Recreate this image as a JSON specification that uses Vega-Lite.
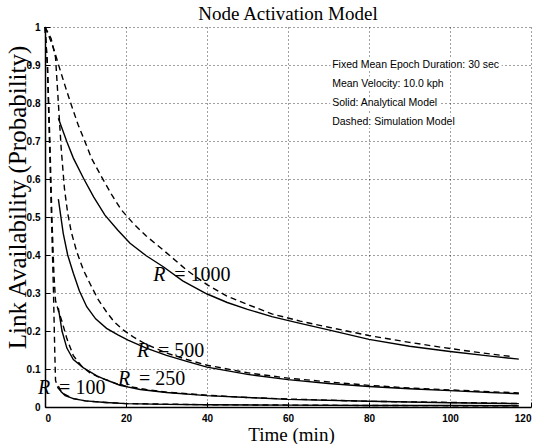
{
  "$schema": "https://vega.github.io/schema/vega-lite/v6.json",
  "width": 486,
  "height": 380,
  "autosize": {"type": "none"},
  "padding": {"left": 45, "top": 27, "right": 8, "bottom": 37},
  "background": "white",
  "title": {"text": "Node Activation Model", "font": "Liberation Serif", "fontSize": 19, "fontWeight": "normal", "color": "black", "offset": -2, "anchor": "middle"},
  "config": {
    "view": {"stroke": null},
    "axis": {
      "domainColor": "black", "domainWidth": 1.5,
      "tickColor": "black", "tickSize": -5, "tickWidth": 1,
      "grid": true, "gridColor": "black", "gridDash": [1, 3], "gridWidth": 1, "gridOpacity": 0.75,
      "labelFont": "Liberation Sans", "labelFontSize": 10, "labelFontWeight": "bold", "labelColor": "black",
      "titleFont": "Liberation Serif", "titleFontSize": 19, "titleFontWeight": "normal", "titleColor": "black"
    }
  },
  "datasets": {
    "analytical": [
      {"R": 1000, "t": 3.3, "v": 0.76}, {"R": 1000, "t": 4.3, "v": 0.73}, {"R": 1000, "t": 5.4, "v": 0.698}, {"R": 1000, "t": 7, "v": 0.655}, {"R": 1000, "t": 9.5, "v": 0.602}, {"R": 1000, "t": 12, "v": 0.553}, {"R": 1000, "t": 14.8, "v": 0.505}, {"R": 1000, "t": 18, "v": 0.465}, {"R": 1000, "t": 21, "v": 0.431}, {"R": 1000, "t": 25, "v": 0.398}, {"R": 1000, "t": 29.2, "v": 0.369}, {"R": 1000, "t": 34, "v": 0.332}, {"R": 1000, "t": 39.9, "v": 0.298}, {"R": 1000, "t": 45, "v": 0.275}, {"R": 1000, "t": 50, "v": 0.257}, {"R": 1000, "t": 56, "v": 0.238}, {"R": 1000, "t": 63, "v": 0.22}, {"R": 1000, "t": 70, "v": 0.203}, {"R": 1000, "t": 80, "v": 0.178}, {"R": 1000, "t": 90, "v": 0.16}, {"R": 1000, "t": 100, "v": 0.146}, {"R": 1000, "t": 110, "v": 0.134}, {"R": 1000, "t": 117, "v": 0.126},
      {"R": 500, "t": 3.3, "v": 0.547}, {"R": 500, "t": 4.5, "v": 0.457}, {"R": 500, "t": 5.6, "v": 0.4}, {"R": 500, "t": 7, "v": 0.352}, {"R": 500, "t": 8.5, "v": 0.305}, {"R": 500, "t": 10.3, "v": 0.264}, {"R": 500, "t": 12.5, "v": 0.232}, {"R": 500, "t": 15.2, "v": 0.207}, {"R": 500, "t": 18, "v": 0.19}, {"R": 500, "t": 20.5, "v": 0.176}, {"R": 500, "t": 25, "v": 0.155}, {"R": 500, "t": 30, "v": 0.136}, {"R": 500, "t": 35, "v": 0.12}, {"R": 500, "t": 40, "v": 0.105}, {"R": 500, "t": 50, "v": 0.086}, {"R": 500, "t": 60, "v": 0.072}, {"R": 500, "t": 70, "v": 0.062}, {"R": 500, "t": 80, "v": 0.054}, {"R": 500, "t": 90, "v": 0.048}, {"R": 500, "t": 100, "v": 0.043}, {"R": 500, "t": 110, "v": 0.038}, {"R": 500, "t": 117, "v": 0.035},
      {"R": 250, "t": 3.3, "v": 0.26}, {"R": 250, "t": 4.2, "v": 0.2}, {"R": 250, "t": 5.4, "v": 0.155}, {"R": 250, "t": 7, "v": 0.125}, {"R": 250, "t": 9.5, "v": 0.103}, {"R": 250, "t": 12.8, "v": 0.082}, {"R": 250, "t": 15.2, "v": 0.071}, {"R": 250, "t": 18.5, "v": 0.057}, {"R": 250, "t": 23.5, "v": 0.046}, {"R": 250, "t": 30, "v": 0.038}, {"R": 250, "t": 40, "v": 0.03}, {"R": 250, "t": 50, "v": 0.025}, {"R": 250, "t": 60, "v": 0.02}, {"R": 250, "t": 80, "v": 0.015}, {"R": 250, "t": 100, "v": 0.011}, {"R": 250, "t": 117, "v": 0.009},
      {"R": 100, "t": 3.3, "v": 0.055}, {"R": 100, "t": 4, "v": 0.04}, {"R": 100, "t": 5, "v": 0.03}, {"R": 100, "t": 7, "v": 0.022}, {"R": 100, "t": 10, "v": 0.016}, {"R": 100, "t": 15, "v": 0.012}, {"R": 100, "t": 20, "v": 0.009}, {"R": 100, "t": 30, "v": 0.007}, {"R": 100, "t": 40, "v": 0.006}, {"R": 100, "t": 60, "v": 0.005}, {"R": 100, "t": 80, "v": 0.004}, {"R": 100, "t": 100, "v": 0.004}, {"R": 100, "t": 117, "v": 0.003}
    ],
    "simulation": [
      {"R": 1000, "t": 0, "v": 1}, {"R": 1000, "t": 1, "v": 0.975}, {"R": 1000, "t": 2.1, "v": 0.944}, {"R": 1000, "t": 3.5, "v": 0.895}, {"R": 1000, "t": 4.9, "v": 0.847}, {"R": 1000, "t": 6.5, "v": 0.795}, {"R": 1000, "t": 8.2, "v": 0.742}, {"R": 1000, "t": 10, "v": 0.695}, {"R": 1000, "t": 11.5, "v": 0.654}, {"R": 1000, "t": 14, "v": 0.605}, {"R": 1000, "t": 16.5, "v": 0.558}, {"R": 1000, "t": 18.9, "v": 0.518}, {"R": 1000, "t": 21.8, "v": 0.483}, {"R": 1000, "t": 25, "v": 0.45}, {"R": 1000, "t": 29.2, "v": 0.413}, {"R": 1000, "t": 35, "v": 0.36}, {"R": 1000, "t": 40, "v": 0.322}, {"R": 1000, "t": 44.9, "v": 0.292}, {"R": 1000, "t": 50, "v": 0.27}, {"R": 1000, "t": 56, "v": 0.245}, {"R": 1000, "t": 63, "v": 0.226}, {"R": 1000, "t": 70, "v": 0.21}, {"R": 1000, "t": 80, "v": 0.188}, {"R": 1000, "t": 90, "v": 0.17}, {"R": 1000, "t": 98, "v": 0.157}, {"R": 1000, "t": 106, "v": 0.145}, {"R": 1000, "t": 115, "v": 0.133},
      {"R": 500, "t": 0, "v": 1}, {"R": 500, "t": 1.5, "v": 0.97}, {"R": 500, "t": 2.6, "v": 0.92}, {"R": 500, "t": 3.3, "v": 0.8}, {"R": 500, "t": 4, "v": 0.68}, {"R": 500, "t": 4.8, "v": 0.575}, {"R": 500, "t": 5.6, "v": 0.51}, {"R": 500, "t": 6.5, "v": 0.46}, {"R": 500, "t": 7.8, "v": 0.41}, {"R": 500, "t": 9.5, "v": 0.36}, {"R": 500, "t": 11.1, "v": 0.325}, {"R": 500, "t": 13, "v": 0.285}, {"R": 500, "t": 15.2, "v": 0.25}, {"R": 500, "t": 17, "v": 0.225}, {"R": 500, "t": 19.3, "v": 0.203}, {"R": 500, "t": 22, "v": 0.183}, {"R": 500, "t": 25, "v": 0.165}, {"R": 500, "t": 30, "v": 0.142}, {"R": 500, "t": 35, "v": 0.125}, {"R": 500, "t": 40, "v": 0.11}, {"R": 500, "t": 50, "v": 0.09}, {"R": 500, "t": 60, "v": 0.076}, {"R": 500, "t": 70, "v": 0.066}, {"R": 500, "t": 80, "v": 0.057}, {"R": 500, "t": 90, "v": 0.05}, {"R": 500, "t": 100, "v": 0.045}, {"R": 500, "t": 110, "v": 0.04}, {"R": 500, "t": 117, "v": 0.037},
      {"R": 250, "t": 0, "v": 1}, {"R": 250, "t": 0.6, "v": 0.9}, {"R": 250, "t": 1.2, "v": 0.7}, {"R": 250, "t": 1.7, "v": 0.5}, {"R": 250, "t": 2.2, "v": 0.35}, {"R": 250, "t": 2.6, "v": 0.28}, {"R": 250, "t": 3.4, "v": 0.25}, {"R": 250, "t": 4.2, "v": 0.225}, {"R": 250, "t": 5.4, "v": 0.18}, {"R": 250, "t": 7, "v": 0.135}, {"R": 250, "t": 9, "v": 0.108}, {"R": 250, "t": 11.1, "v": 0.09}, {"R": 250, "t": 13, "v": 0.08}, {"R": 250, "t": 15, "v": 0.072}, {"R": 250, "t": 18, "v": 0.06}, {"R": 250, "t": 20, "v": 0.055}, {"R": 250, "t": 25, "v": 0.046}, {"R": 250, "t": 30, "v": 0.039}, {"R": 250, "t": 40, "v": 0.031}, {"R": 250, "t": 50, "v": 0.025}, {"R": 250, "t": 60, "v": 0.021}, {"R": 250, "t": 80, "v": 0.015}, {"R": 250, "t": 100, "v": 0.012}, {"R": 250, "t": 117, "v": 0.009},
      {"R": 100, "t": 0, "v": 1}, {"R": 100, "t": 0.6, "v": 0.9}, {"R": 100, "t": 1.1, "v": 0.7}, {"R": 100, "t": 1.6, "v": 0.5}, {"R": 100, "t": 2.1, "v": 0.3}, {"R": 100, "t": 2.4, "v": 0.15}, {"R": 100, "t": 2.6, "v": 0.07}, {"R": 100, "t": 3.2, "v": 0.05}, {"R": 100, "t": 4.5, "v": 0.035}, {"R": 100, "t": 7, "v": 0.022}, {"R": 100, "t": 10, "v": 0.016}, {"R": 100, "t": 15, "v": 0.012}, {"R": 100, "t": 20, "v": 0.009}, {"R": 100, "t": 40, "v": 0.006}, {"R": 100, "t": 80, "v": 0.004}, {"R": 100, "t": 117, "v": 0.003}
    ],
    "labels": [
      {"t": 26.7, "v": 0.347, "rest": "= 1000"},
      {"t": 22.7, "v": 0.147, "rest": "= 500"},
      {"t": 18.0, "v": 0.074, "rest": "= 250"},
      {"t": -1.7, "v": 0.05, "rest": "= 100"}
    ],
    "notes": [
      {"t": 70.9, "v": 0.9, "note": "Fixed Mean Epoch Duration: 30 sec"},
      {"t": 70.9, "v": 0.85, "note": "Mean Velocity: 10.0 kph"},
      {"t": 70.9, "v": 0.8, "note": "Solid: Analytical Model"},
      {"t": 70.9, "v": 0.75, "note": "Dashed: Simulation Model"}
    ]
  },
  "encoding": {
    "x": {"field": "t", "type": "quantitative", "scale": {"domain": [0, 120], "nice": false, "zero": false},
      "axis": {"values": [0, 20, 40, 60, 80, 100, 120], "title": "Time (min)", "labelPadding": 11, "titleX": 246, "titleY": 18, "titleBaseline": "top", "titleAlign": "center"}},
    "y": {"field": "v", "type": "quantitative", "scale": {"domain": [0, 1], "nice": false},
      "axis": {"values": [0, 0.1, 0.2, 0.3, 0.4, 0.5, 0.6, 0.7, 0.8, 0.9, 1], "format": "~g", "title": "Link Availability (Probability)", "titleFontSize": 25, "labelPadding": 10, "titleX": -15, "titleY": 170, "titleAngle": -90, "titleBaseline": "bottom", "titleAlign": "center"}}
  },
  "layer": [
    {"data": {"name": "analytical"}, "mark": {"type": "line", "color": "black", "strokeWidth": 1.4}, "encoding": {"detail": {"field": "R", "type": "nominal"}}},
    {"data": {"name": "simulation"}, "mark": {"type": "line", "color": "black", "strokeWidth": 1.4, "strokeDash": [6, 4]}, "encoding": {"detail": {"field": "R", "type": "nominal"}}},
    {"data": {"name": "labels"}, "mark": {"type": "text", "text": "R", "font": "Liberation Serif", "fontStyle": "italic", "fontSize": 20, "align": "left", "baseline": "middle", "color": "black"}},
    {"data": {"name": "labels"}, "mark": {"type": "text", "font": "Liberation Serif", "fontSize": 20, "align": "left", "baseline": "middle", "color": "black", "dx": 21}, "encoding": {"text": {"field": "rest"}}},
    {"data": {"name": "notes"}, "mark": {"type": "text", "font": "Liberation Sans", "fontSize": 10.5, "align": "left", "baseline": "middle", "color": "white", "stroke": "white", "strokeWidth": 5}, "encoding": {"text": {"field": "note"}}},
    {"data": {"name": "notes"}, "mark": {"type": "text", "font": "Liberation Sans", "fontSize": 10.5, "align": "left", "baseline": "middle", "color": "black"}, "encoding": {"text": {"field": "note"}}}
  ]
}
